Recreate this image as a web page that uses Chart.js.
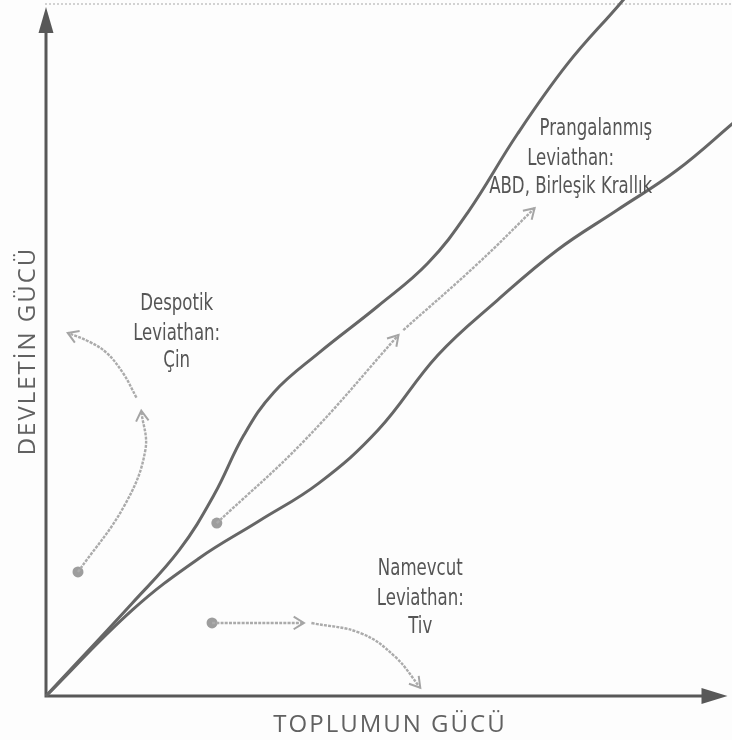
<!DOCTYPE html>
<html>
<head>
<meta charset="utf-8">
<script src="https://cdn.jsdelivr.net/npm/chart.js@4.4.0/dist/chart.umd.min.js"></script>
<style>
    html, body { margin: 0; padding: 0; background: #fdfdfd; }
    #kutu { width: 732px; height: 740px; position: relative; }
</style>
</head>
<body>
<div id="kutu"><canvas id="grafik-koridor"></canvas></div>
<script>
// --- dar koridor: toplumun gücü (x) / devletin gücü (y), 0-100 ---

// üst eğri
var ustX = [0, 12.7, 19.6, 24.7, 29.1, 33.5, 40.1, 48.8, 56.1, 62.0, 69.3, 76.6, 84.2, 88.3];
var ustY = [0, 13.5, 21.2, 29.2, 37.9, 44.1, 49.8, 56.6, 62.8, 70.2, 81.6, 91.7, 100.3, 105.1];

// alt eğri
var altX = [0, 12.7, 22.5, 31.3, 40.1, 48.8, 57.6, 66.4, 75.1, 83.9, 92.7, 101.5];
var altY = [0, 12.5, 20.0, 25.4, 30.9, 38.6, 49.5, 57.5, 64.7, 70.5, 76.3, 83.6];

// oklar (gri, kesikli)
var despotik1X = [4.7, 11.5, 14.6, 14.0];
var despotik1Y = [18.0, 27.6, 35.7, 41.4];
var despotik2X = [13.3, 11.3, 8.9, 6.4, 3.2];
var despotik2Y = [43.3, 46.9, 49.8, 51.4, 52.7];
var pranga1X = [25.1, 37.9, 51.8];
var pranga1Y = [25.1, 37.0, 52.4];
var pranga2X = [52.5, 63.5, 71.8];
var pranga2Y = [53.1, 62.8, 70.8];
var namevcut1X = [24.4, 37.9];
var namevcut1Y = [10.6, 10.6];
var namevcut2X = [39.0, 46.3, 51.3, 55.0];
var namevcut2Y = [10.6, 9.1, 5.7, 1.2];

// başlangıç noktaları
var noktaX = [4.7, 25.1, 24.4];
var noktaY = [18.0, 25.1, 10.6];

// yazılar
var etiketMetin = ['Prangalanmış', 'Leviathan:', 'ABD, Birleşik Krallık',
                   'Despotik', 'Leviathan:', 'Çin',
                   'Namevcut', 'Leviathan:', 'Tiv'];
var etiketX = [80.8, 77.1, 77.1, 19.2, 19.2, 19.2, 55.0, 55.0, 55.0];
var etiketY = [81.4, 77.1, 73.0, 56.0, 51.7, 47.8, 17.6, 13.2, 9.1];

var eksenX = 'TOPLUMUN GÜCÜ';
var eksenY = 'DEVLETİN GÜCÜ';


function noktalar(xs, ys){
    var out = [];
    for (var i = 0; i < xs.length; i++) {
        out.push({x: xs[i], y: ys[i]});
    }
    return out;
};

function egri(xs, ys){
    return {
        data: noktalar(xs, ys),
        borderColor: '#666666',
        borderWidth: 3,
        pointRadius: 0,
        tension: 0.4,
        clip: false
    };
};

function ok(xs, ys){
    return {
        data: noktalar(xs, ys),
        borderColor: '#ababab',
        borderWidth: 2.4,
        borderDash: [3, 1.2],
        pointRadius: 0,
        tension: 0.4,
        ok: true
    };
};

// eksenler, ok uçları ve yazılar
var koridorPlugin = {
    id: 'koridor',
    beforeDraw: function(chart){
        var c = chart.ctx;
        c.save();
        c.fillStyle = '#fdfdfd';
        c.fillRect(0, 0, chart.width, chart.height);
        // taramadan kalan üst kenar
        c.strokeStyle = '#c4c4c4';
        c.lineWidth = 1.5;
        c.setLineDash([2, 2]);
        c.beginPath();
        c.moveTo(45, 4);
        c.lineTo(chart.width, 4);
        c.stroke();
        c.restore();
    },
    beforeDatasetsDraw: function(chart){
        var c = chart.ctx;
        var a = chart.chartArea;
        var x0 = chart.scales.x.getPixelForValue(0);
        var y0 = chart.scales.y.getPixelForValue(0);
        c.save();
        c.strokeStyle = '#585858';
        c.fillStyle = '#585858';
        c.lineWidth = 3;
        c.beginPath();
        c.moveTo(x0, y0 + 1.5);
        c.lineTo(x0, a.top + 22);
        c.moveTo(x0 - 1.5, y0);
        c.lineTo(a.right - 22, y0);
        c.stroke();
        c.beginPath();
        c.moveTo(x0, a.top);
        c.lineTo(x0 - 7.5, a.top + 26);
        c.lineTo(x0 + 7.5, a.top + 26);
        c.closePath();
        c.fill();
        c.beginPath();
        c.moveTo(a.right + 1, y0);
        c.lineTo(a.right - 25, y0 - 8);
        c.lineTo(a.right - 25, y0 + 8);
        c.closePath();
        c.fill();
        c.restore();
    },
    afterDatasetsDraw: function(chart){
        var c = chart.ctx;
        c.save();
        // ok uçları
        chart.data.datasets.forEach(function(ds, i){
            if (!ds.ok) return;
            var pts = chart.getDatasetMeta(i).data;
            var son = pts[pts.length - 1];
            var px = son.cp1x, py = son.cp1y;
            if (px === undefined || (Math.abs(px - son.x) < 0.5 && Math.abs(py - son.y) < 0.5)) {
                px = pts[pts.length - 2].x;
                py = pts[pts.length - 2].y;
            }
            var aci = Math.atan2(son.y - py, son.x - px);
            var L = 12;
            c.strokeStyle = '#a5a5a5';
            c.lineWidth = 2;
            c.setLineDash([]);
            c.beginPath();
            c.moveTo(son.x - L * Math.cos(aci - 0.55), son.y - L * Math.sin(aci - 0.55));
            c.lineTo(son.x, son.y);
            c.lineTo(son.x - L * Math.cos(aci + 0.55), son.y - L * Math.sin(aci + 0.55));
            c.stroke();
        });

        // bölge yazıları (dar yazı: "Leviathan:" ~87px genişlik)
        var xs = chart.scales.x, ys = chart.scales.y;
        c.fillStyle = '#555555';
        c.font = '23px "Liberation Sans Narrow", "DejaVu Sans Condensed", sans-serif';
        c.textAlign = 'center';
        c.textBaseline = 'alphabetic';
        var olcek = Math.min(1, 87 / c.measureText('Leviathan:').width);
        for (var k = 0; k < etiketMetin.length; k++) {
            c.save();
            c.translate(xs.getPixelForValue(etiketX[k]), ys.getPixelForValue(etiketY[k]));
            c.scale(olcek, 1);
            c.fillText(etiketMetin[k], 0, 0);
            c.restore();
        }

        // eksen başlıkları
        c.fillStyle = '#616161';
        c.font = '24px "Open Sans", sans-serif';
        c.letterSpacing = '2px';
        c.fillText(eksenX, 390, 732);
        c.translate(35, 351);
        c.rotate(-Math.PI / 2);
        c.fillText(eksenY, 0, 0);
        c.restore();
    }
};

var ctx = document.getElementById('grafik-koridor');
var chart = new Chart(ctx, {
    type: 'line',
    data: {
        datasets: [
            egri(ustX, ustY),
            egri(altX, altY),
            ok(despotik1X, despotik1Y),
            ok(despotik2X, despotik2Y),
            ok(pranga1X, pranga1Y),
            ok(pranga2X, pranga2Y),
            ok(namevcut1X, namevcut1Y),
            ok(namevcut2X, namevcut2Y),
            {
                data: noktalar(noktaX, noktaY),
                showLine: false,
                pointRadius: 5.5,
                pointBackgroundColor: '#9d9d9d',
                pointBorderWidth: 0
            }
        ]
    },
    options: {
        responsive: true,
        maintainAspectRatio: false,
        devicePixelRatio: 1,
        animation: false,
        layout: { padding: { left: 46, right: 2, top: 7, bottom: 44 } },
        plugins: { legend: { display: false }, tooltip: { enabled: false } },
        scales: {
            x: { type: 'linear', min: 0, max: 100, display: false },
            y: { type: 'linear', min: 0, max: 100, display: false }
        }
    },
    plugins: [koridorPlugin]
});
</script>
</body>
</html>
